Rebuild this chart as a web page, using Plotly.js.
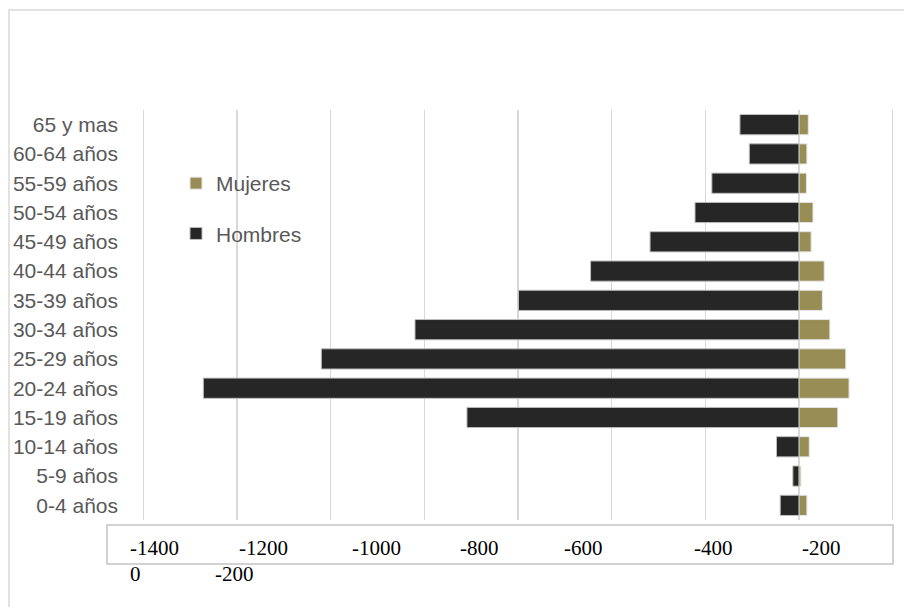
<!DOCTYPE html>
<html>
<head>
<meta charset="utf-8">
<script src="https://cdn.plot.ly/plotly-3.0.1.min.js"></script>
<style>html,body{margin:0;padding:0;background:#fff;}#chart{width:904px;height:607px;}</style>
</head>
<body>
<div id="chart"></div>
<script>
// ---- data ----
var categories = ["0-4 años","5-9 años","10-14 años","15-19 años","20-24 años","25-29 años","30-34 años","35-39 años","40-44 años","45-49 años","50-54 años","55-59 años","60-64 años","65 y mas"];
var hombres = [-40, -13, -48, -709, -1272, -1020, -820, -599, -445, -318, -222, -186, -106, -126];
var mujeres = [17, 4, 22, 83, 107, 100, 66, 50, 54, 26, 30, 16, 17, 20];
var gridVals = [-1400, -1200, -1000, -800, -600, -400, -200, 0, 200];
var tickRow1 = ["-1400", "-1200", "-1000", "-800", "-600", "-400", "-200"];
var tickRow2 = ["0", "-200"];

// ---- layout helpers (pixel -> paper) ----
var W = 904, H = 607, ml = 142, mr = 10, mt = 110, mb = 87;
var pw = W - ml - mr, ph = H - mt - mb;
function px(x){ return (x - ml) / pw; }
function py(y){ return (H - mb - y) / ph; }

var row1Left = [128, 237, 350, 458, 562, 692, 800];
var row2Left = [128, 213];
var serif = {family: "Liberation Serif, Times New Roman, serif", size: 21, color: "#000000"};
var annotations = [];
tickRow1.forEach(function(t, i){
  annotations.push({text: t, xref: "paper", yref: "paper", x: px(row1Left[i]), y: py(548),
    xanchor: "left", yanchor: "middle", showarrow: false, font: serif});
});
tickRow2.forEach(function(t, i){
  annotations.push({text: t, xref: "paper", yref: "paper", x: px(row2Left[i]), y: py(574),
    xanchor: "left", yanchor: "middle", showarrow: false, font: serif});
});

var traces = [
  {type: "bar", orientation: "h", name: "Mujeres", y: categories, x: mujeres,
   legendgroup: "m",
   marker: {color: "#978d55", line: {color: "#e6e6e6", width: 1}}},
  {type: "bar", orientation: "h", name: "Hombres", y: categories, x: hombres,
   legendgroup: "h",
   marker: {color: "#262626", line: {color: "#bdbdbd", width: 1}}}
];

var sans = "Liberation Sans, Arial, sans-serif";
var layout = {
  width: W, height: H,
  margin: {l: ml, r: mr, t: mt, b: mb, pad: 0},
  paper_bgcolor: "#ffffff", plot_bgcolor: "#ffffff",
  barmode: "overlay", bargap: 0.31,
  showlegend: true,
  legend: {x: px(176), y: py(163), xanchor: "left", yanchor: "top",
    bgcolor: "rgba(0,0,0,0)", traceorder: "grouped", tracegroupgap: 20,
    font: {family: sans, size: 21, color: "#595959"}},
  xaxis: {range: [-1403, 203], tickvals: gridVals, showticklabels: false,
    showgrid: true, gridcolor: "#d9d9d9", gridwidth: 1.5, zeroline: false,
    showline: false, ticks: "", fixedrange: true},
  yaxis: {type: "category", categoryorder: "array", categoryarray: categories,
    showgrid: false, zeroline: false, showline: false, ticks: "",
    ticklabelstandoff: 23,
    tickfont: {family: sans, size: 21, color: "#595959"},
    fixedrange: true},
  annotations: annotations,
  shapes: [
    {type: "rect", xref: "paper", yref: "paper", x0: px(9), x1: px(920), y0: py(10), y1: py(620),
     line: {color: "#d9d9d9", width: 1.5}, fillcolor: "rgba(0,0,0,0)", layer: "below"},
    {type: "rect", xref: "paper", yref: "paper", x0: px(107), x1: px(893), y0: py(525), y1: py(564),
     line: {color: "#c4c4c4", width: 1.5}, fillcolor: "rgba(0,0,0,0)"}
  ]
};

Plotly.newPlot("chart", traces, layout, {displayModeBar: false, staticPlot: true});
</script>
</body>
</html>
